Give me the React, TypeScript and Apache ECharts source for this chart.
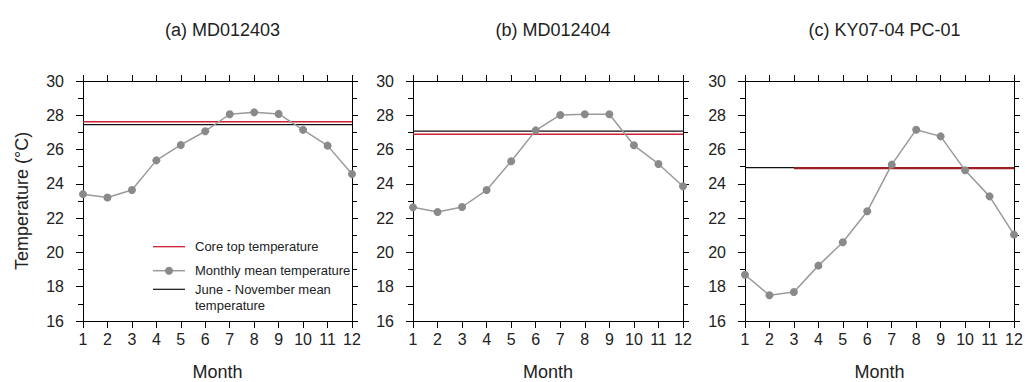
import React, { useEffect, useRef } from "react";
import * as echarts from "echarts";

// Monthly sea-surface temperature climatology at three core sites
const months = [1, 2, 3, 4, 5, 6, 7, 8, 9, 10, 11, 12];
const panelTitles = ["(a) MD012403", "(b) MD012404", "(c) KY07-04 PC-01"];
const monthlyA = [23.4, 23.2, 23.64, 25.37, 26.27, 27.07, 28.06, 28.17, 28.08, 27.15, 26.23, 24.57];
const monthlyB = [22.63, 22.36, 22.65, 23.64, 25.32, 27.12, 28.02, 28.06, 28.06, 26.25, 25.16, 23.86];
const monthlyC = [18.7, 17.5, 17.69, 19.23, 20.59, 22.4, 25.12, 27.16, 26.77, 24.79, 23.27, 21.04];
const monthlyAll = [monthlyA, monthlyB, monthlyC];
// Core top temperature per site, and the month its reference line starts from
const coreTop = [27.62, 26.89, 24.92];
const coreTopFrom = [1, 1, 3];
// June - November mean temperature per site
const junNovMean = [27.46, 27.08, 24.95];
const yTicks = { min: 16, max: 30, step: 2 };

const legendLabels = [
  "Core top temperature",
  "Monthly mean temperature",
  "June - November mean\ntemperature",
];

const FONT = "'Liberation Sans', Arial, Helvetica, sans-serif";
const RED = "#cc2233";
const GREY_LINE = "#9a9a9a";
const GREY_DOT = "#8a8a8a";
const INK = "#222";

const grids = [
  { left: 83, width: 269 },
  { left: 413, width: 270 },
  { left: 745, width: 269 },
];
const GRID_TOP = 81;
const GRID_H = 240;

export default function App() {
  const ref = useRef<HTMLDivElement>(null);

  useEffect(() => {
    if (!ref.current) return;
    const chart = echarts.init(ref.current, undefined, { renderer: "svg" });

    const axisLine = { show: true, onZero: false, lineStyle: { color: "#000", width: 1 } };
    const tickStyle = { color: "#000", width: 1 };

    const xAxis: any[] = [];
    const yAxis: any[] = [];
    const series: any[] = [];

    grids.forEach((g, i) => {
      xAxis.push({
        gridIndex: i,
        type: "value",
        min: months[0],
        max: months[months.length - 1],
        interval: 1,
        position: "bottom",
        axisLine,
        axisTick: { show: true, length: 7, lineStyle: tickStyle },
        axisLabel: { fontSize: 16, color: INK, margin: 10, fontFamily: FONT },
        splitLine: { show: false },
        name: "Month",
        nameLocation: "middle",
        nameGap: 42,
        nameTextStyle: { fontSize: 18, color: INK, fontFamily: FONT },
      });
      xAxis.push({
        gridIndex: i,
        type: "value",
        min: months[0],
        max: months[months.length - 1],
        interval: 1,
        position: "top",
        axisLine,
        axisTick: { show: true, length: 6, lineStyle: tickStyle },
        axisLabel: { show: false },
        splitLine: { show: false },
      });
      yAxis.push({
        gridIndex: i,
        type: "value",
        min: yTicks.min,
        max: yTicks.max,
        interval: yTicks.step,
        position: "left",
        axisLine,
        axisTick: { show: true, length: 7, lineStyle: tickStyle },
        minorTick: { show: true, splitNumber: 2, length: 5, lineStyle: tickStyle },
        axisLabel: { fontSize: 16, color: INK, margin: 19, fontFamily: FONT },
        splitLine: { show: false },
        minorSplitLine: { show: false },
        ...(i === 0
          ? {
              name: "Temperature (°C)",
              nameLocation: "middle",
              nameRotate: 90,
              nameGap: 52,
              nameTextStyle: { fontSize: 18, color: INK, fontFamily: FONT },
            }
          : {}),
      });
      yAxis.push({
        gridIndex: i,
        type: "value",
        min: yTicks.min,
        max: yTicks.max,
        interval: yTicks.step,
        position: "right",
        axisLine,
        axisTick: { show: true, length: 6, lineStyle: tickStyle },
        minorTick: { show: true, splitNumber: 2, length: 5, lineStyle: tickStyle },
        axisLabel: { show: false },
        splitLine: { show: false },
        minorSplitLine: { show: false },
      });

      const xi = i * 2;
      const yi = i * 2;
      series.push({
        name: "June - November mean temperature",
        type: "line",
        xAxisIndex: xi,
        yAxisIndex: yi,
        data: [
          [months[0], junNovMean[i]],
          [months[months.length - 1], junNovMean[i]],
        ],
        symbol: "none",
        silent: true,
        lineStyle: { color: "#111", width: 1.2 },
        z: 2,
      });
      series.push({
        name: "Core top temperature",
        type: "line",
        xAxisIndex: xi,
        yAxisIndex: yi,
        data: [
          [coreTopFrom[i], coreTop[i]],
          [months[months.length - 1], coreTop[i]],
        ],
        symbol: "none",
        silent: true,
        lineStyle: { color: i === 2 ? "#9e1c24" : RED, width: i === 2 ? 2.2 : 1.6 },
        z: 3,
      });
      series.push({
        name: "Monthly mean temperature",
        type: "line",
        xAxisIndex: xi,
        yAxisIndex: yi,
        data: months.map((m, k) => [m, monthlyAll[i][k]]),
        symbol: "circle",
        symbolSize: 8,
        clip: false,
        lineStyle: { color: GREY_LINE, width: 1.5 },
        itemStyle: { color: GREY_DOT },
        z: 4,
      });
    });

    // Legend drawn inside panel (a)
    const lx1 = 153;
    const lx2 = 185;
    const tx = 195;
    const rows = [246.7, 270.7, 289.3];
    const legendText = (y: number, text: string, top = false) => ({
      type: "text",
      x: tx,
      y: top ? y - 7.8 : y,
      style: {
        text,
        fill: INK,
        fontSize: 13,
        fontFamily: FONT,
        verticalAlign: top ? "top" : "middle",
        lineHeight: 15.7,
      },
    });
    const graphic = [
      {
        type: "line",
        shape: { x1: lx1, y1: rows[0], x2: lx2, y2: rows[0] },
        style: { stroke: RED, lineWidth: 1.3 },
      },
      legendText(rows[0], legendLabels[0]),
      {
        type: "line",
        shape: { x1: lx1, y1: rows[1], x2: lx2, y2: rows[1] },
        style: { stroke: GREY_LINE, lineWidth: 1.5 },
      },
      {
        type: "circle",
        shape: { cx: (lx1 + lx2) / 2, cy: rows[1], r: 4 },
        style: { fill: GREY_DOT },
      },
      legendText(rows[1], legendLabels[1]),
      {
        type: "line",
        shape: { x1: lx1, y1: rows[2], x2: lx2, y2: rows[2] },
        style: { stroke: "#111", lineWidth: 1.2 },
      },
      legendText(rows[2], legendLabels[2], true),
    ];

    chart.setOption({
      animation: false,
      backgroundColor: "#fff",
      textStyle: { fontFamily: FONT },
      title: panelTitles.map((t, i) => ({
        text: t,
        left: grids[i].left + grids[i].width / 2,
        top: 16,
        textAlign: "center",
        textStyle: { fontSize: 18, fontWeight: "normal", color: INK, fontFamily: FONT },
      })),
      grid: grids.map((g) => ({
        left: g.left,
        width: g.width,
        top: GRID_TOP,
        height: GRID_H,
        outerBoundsMode: "none",
      })),
      xAxis,
      yAxis,
      series,
      graphic,
    });

    return () => chart.dispose();
  }, []);

  return (
    <div
      ref={ref}
      style={{ position: "fixed", left: 0, top: 0, width: 1025, height: 382, background: "#fff" }}
    />
  );
}
